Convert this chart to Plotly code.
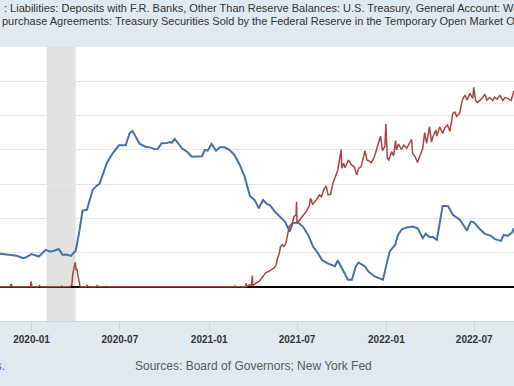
import plotly.graph_objects as go

# Treasury General Account (weekly, billions of USD)
tga_dates = ["2019-10-28","2019-11-17","2019-12-02","2019-12-14","2019-12-20","2020-01-01","2020-01-16","2020-01-30",
             "2020-02-07","2020-02-16","2020-02-26","2020-03-05","2020-03-13","2020-03-22","2020-04-01","2020-04-09",
             "2020-04-15","2020-04-24","2020-05-06","2020-05-14","2020-05-20","2020-06-04","2020-06-16","2020-06-29",
             "2020-07-13","2020-07-21","2020-07-27","2020-08-11","2020-08-23","2020-09-03","2020-09-11","2020-09-17",
             "2020-09-25","2020-10-06","2020-10-12","2020-10-16","2020-10-22","2020-11-06","2020-11-16","2020-11-26",
             "2020-12-07","2020-12-17","2020-12-23","2020-12-29","2021-01-06","2021-01-15","2021-01-23","2021-02-02",
             "2021-02-12","2021-02-22","2021-03-05","2021-03-15","2021-03-26","2021-04-05","2021-04-13","2021-04-22",
             "2021-04-30","2021-05-06","2021-05-16","2021-05-27","2021-06-06","2021-06-16","2021-06-22","2021-07-03",
             "2021-07-13","2021-07-24","2021-08-03","2021-08-13","2021-08-21","2021-09-01","2021-09-13","2021-09-17",
             "2021-09-23","2021-10-02","2021-10-14","2021-10-22","2021-10-30","2021-11-05","2021-11-18","2021-11-26",
             "2021-12-08","2021-12-19","2021-12-25","2022-01-02","2022-01-08","2022-01-19","2022-01-25","2022-02-02",
             "2022-02-12","2022-02-25","2022-03-07","2022-03-17","2022-03-23","2022-03-31","2022-04-07","2022-04-15",
             "2022-04-27","2022-05-08","2022-05-18","2022-06-02","2022-06-16","2022-06-24","2022-06-30","2022-07-13",
             "2022-07-23","2022-08-03","2022-08-13","2022-08-25","2022-08-31","2022-09-08","2022-09-17","2022-09-21"]
tga_values = [385,373,361,334,342,381,353,431,
              412,418,440,373,376,361,420,665,
              890,898,1131,1178,1201,1442,1559,1652,
              1652,1792,1818,1667,1636,1625,1605,1610,
              1675,1680,1690,1682,1726,1617,1578,1519,
              1525,1525,1597,1590,1667,1589,1629,1629,
              1597,1539,1423,1286,1061,1010,917,1014,
              968,955,878,820,761,645,743,750,
              703,606,470,393,315,276,245,240,
              307,218,82,82,237,283,237,171,
              120,95,82,276,412,490,606,672,
              692,703,680,568,618,580,580,548,
              944,944,840,781,657,761,755,672,
              618,598,556,536,606,595,633,684]

# Overnight reverse repurchase agreements (daily, billions of USD)
rrp_dates = ["2019-10-28","2019-11-18","2019-11-20","2019-11-22","2019-12-30","2019-12-31","2020-01-02","2020-01-16",
             "2020-01-17","2020-01-20","2020-03-02","2020-03-03","2020-03-05","2020-03-20","2020-03-24","2020-03-26",
             "2020-03-31","2020-04-02","2020-04-03","2020-04-06","2020-04-08","2020-04-10","2020-04-23","2020-04-24",
             "2020-04-27","2020-05-14","2020-05-15","2020-05-18","2020-06-01","2020-06-02","2020-06-04","2021-01-20",
             "2021-02-22","2021-02-23","2021-02-25","2021-03-17","2021-03-18","2021-03-19","2021-03-25","2021-03-29",
             "2021-03-31","2021-04-01","2021-04-07","2021-04-14","2021-04-20","2021-04-26","2021-04-28","2021-05-03",
             "2021-05-10","2021-05-14","2021-05-19","2021-05-21","2021-05-25","2021-05-27","2021-05-28","2021-06-01",
             "2021-06-04","2021-06-08","2021-06-11","2021-06-15","2021-06-21","2021-06-25","2021-06-29","2021-06-30",
             "2021-07-01","2021-07-07","2021-07-13","2021-07-20","2021-07-26","2021-07-29","2021-08-02","2021-08-10",
             "2021-08-16","2021-08-20","2021-08-25","2021-08-30","2021-09-03","2021-09-08","2021-09-13","2021-09-17",
             "2021-09-23","2021-09-30","2021-10-01","2021-10-05","2021-10-08","2021-10-15","2021-10-21","2021-10-27",
             "2021-11-01","2021-11-05","2021-11-10","2021-11-18","2021-11-22","2021-11-26","2021-12-01","2021-12-07",
             "2021-12-14","2021-12-20","2021-12-24","2021-12-29","2021-12-31","2022-01-03","2022-01-06","2022-01-12",
             "2022-01-16","2022-01-20","2022-01-22","2022-01-26","2022-02-01","2022-02-06","2022-02-12","2022-02-18",
             "2022-02-22","2022-02-24","2022-03-02","2022-03-06","2022-03-11","2022-03-17","2022-03-21","2022-03-25",
             "2022-03-31","2022-04-04","2022-04-07","2022-04-13","2022-04-15","2022-04-21","2022-04-27","2022-05-01",
             "2022-05-07","2022-05-12","2022-05-18","2022-05-22","2022-05-26","2022-06-01","2022-06-05","2022-06-07",
             "2022-06-12","2022-06-16","2022-06-22","2022-06-28","2022-06-30","2022-07-04","2022-07-08","2022-07-17",
             "2022-07-23","2022-07-27","2022-08-02","2022-08-08","2022-08-12","2022-08-17","2022-08-23","2022-08-29",
             "2022-09-02","2022-09-08","2022-09-15","2022-09-19","2022-09-21"]
rrp_values = [0,0,35,0,0,62,0,0,
              15,0,0,8,0,0,20,150,
              285,190,215,120,60,0,0,20,
              0,0,12,0,0,5,0,0,
              0,10,0,0,43,5,23,20,
              130,15,43,62,101,140,165,178,
              198,218,257,315,385,431,470,490,
              470,510,587,703,743,820,840,992,
              742,781,820,878,944,1034,960,1014,
              1073,1050,1131,1178,1073,1080,1209,1267,
              1364,1604,1384,1442,1390,1481,1423,1403,
              1306,1384,1400,1589,1481,1470,1450,1512,
              1636,1758,1590,1640,1904,1500,1481,1578,
              1528,1706,1597,1667,1605,1656,1617,1675,
              1722,1559,1512,1450,1520,1617,1799,1675,
              1869,1690,1753,1830,1760,1869,1790,1850,
              1889,1815,2025,2040,1990,2025,2142,2188,
              2239,2180,2258,2200,2329,2172,2150,2200,
              2250,2180,2210,2175,2215,2190,2235,2175,
              2210,2200,2175,2258,2290]

recession = ("2020-02-01", "2020-04-01")
tick_vals = ["2020-01-01","2020-07-01","2021-01-01","2021-07-01","2022-01-01","2022-07-01"]
tick_text = ["2020-01","2020-07","2021-01","2021-07","2022-01","2022-07"]

FONT = "Liberation Sans, Arial, sans-serif"

fig = go.Figure()
fig.add_trace(go.Scatter(x=tga_dates, y=tga_values, mode="lines",
                         line=dict(color="#4572a7", width=2), hoverinfo="skip"))
fig.add_trace(go.Scatter(x=rrp_dates, y=rrp_values, mode="lines",
                         line=dict(color="#aa4643", width=1.5), hoverinfo="skip"))

fig.add_shape(type="rect", xref="x", yref="paper", x0=recession[0], x1=recession[1], y0=0, y1=1,
              fillcolor="#e1e1e1", line=dict(width=0), layer="below")

fig.add_annotation(xref="paper", yref="paper", x=0.003, y=1, yshift=39, xanchor="left", yanchor="middle",
                   text=": Liabilities: Deposits with F.R. Banks, Other Than Reserve Balances: U.S. Treasury, General Account: Week Average and",
                   showarrow=False, font=dict(family=FONT, size=11, color="#333333"))
fig.add_annotation(xref="paper", yref="paper", x=0, y=1, yshift=26, xanchor="left", yanchor="middle",
                   text="purchase Agreements: Treasury Securities Sold by the Federal Reserve in the Temporary Open Market Operations",
                   showarrow=False, font=dict(family=FONT, size=11, color="#333333"))
fig.add_annotation(xref="paper", yref="paper", x=7/514, y=0, yshift=-45, xanchor="right", yanchor="middle",
                   text="Shaded areas indicate U.S. recessions.",
                   showarrow=False, font=dict(family=FONT, size=12, color="#3a6ab0"))
fig.add_annotation(xref="paper", yref="paper", x=253/514, y=0, yshift=-45, xanchor="center", yanchor="middle",
                   text="Sources: Board of Governors; New York Fed",
                   showarrow=False, font=dict(family=FONT, size=12, color="#595959"))

fig.update_layout(
    width=514, height=386,
    margin=dict(l=0, r=0, t=47, b=65, autoexpand=False),
    paper_bgcolor="#e1e9f0", plot_bgcolor="#ffffff",
    showlegend=False,
    xaxis=dict(type="date", range=["2019-10-28", "2022-09-21"], tickvals=tick_vals,
               ticktext=["<b>%s</b>" % t for t in tick_text],
               showgrid=False, ticks="outside", ticklen=9, tickcolor="#ccd6eb", automargin=False,
               showline=True, linecolor="#ccd6eb", linewidth=1,
               tickfont=dict(family=FONT, size=10, color="#333333"), zeroline=False, fixedrange=True),
    yaxis=dict(range=[-400, 2800], dtick=400, showgrid=True, gridcolor="#e6e6e6", gridwidth=1,
               zeroline=True, zerolinecolor="#000000", zerolinewidth=2, automargin=False,
               showticklabels=False, ticks="", fixedrange=True),
)

fig.write_html("out.html", config={"displayModeBar": False},
               post_script="document.body.style.margin='0';document.body.style.overflow='hidden';"
                           "document.documentElement.style.overflow='hidden';")
